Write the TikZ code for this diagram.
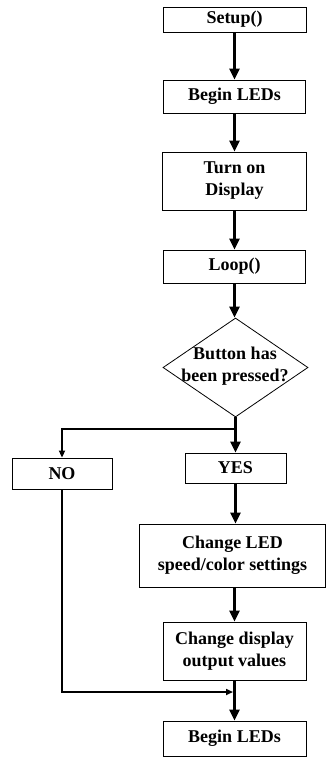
\documentclass[tikz,border=0pt]{standalone}
\usepackage{fontspec}
\setmainfont{Liberation Serif}
\usetikzlibrary{shapes.geometric,arrows.meta}

\tikzset{
  stepbox/.style={draw, line width=0.8pt, font=\bfseries\fontsize{18}{22}\selectfont, align=center, inner sep=2pt},
  askbox/.style={draw, diamond, line width=0.8pt, inner sep=0pt},
  flow/.style={line width=2.6pt, -{Triangle[length=11pt,width=10pt]}},
  side/.style={line width=1.6pt, -{Triangle[length=7pt,width=6pt]}},
}

\begin{document}
\begin{tikzpicture}[x=1pt,y=-1pt]
  %\draw[lightgray] (0,0) grid[step=50] (326,757);
  \useasboundingbox (0,0) rectangle (326,757);
  \draw (234.5,19.5) node [stepbox, minimum width=143pt, minimum height=25pt] (setup) {Setup()};
  \draw (234.5,96.5) node [stepbox, minimum width=142pt, minimum height=33pt] (beginleds) {Begin LEDs};
  \draw (234.5,181) node [stepbox, minimum width=144pt, minimum height=58pt] (display) {Turn on\\Display};
  \draw (234.5,266.5) node [stepbox, minimum width=142pt, minimum height=33pt] (loop) {Loop()};
  \draw (235.5,367.5) node [askbox, minimum width=145pt, minimum height=99pt] (pressed) {};
  \node [font=\bfseries\fontsize{18}{22}\selectfont, align=center] (pressedtext) at (235,366) {Button has\\been pressed?};
  \coordinate (split) at (235.5,429);
  \draw (62,473.5) node [stepbox, minimum width=100pt, minimum height=31pt] (no) {NO};
  \draw (235.5,468) node [stepbox, minimum width=101pt, minimum height=30pt] (yes) {YES};
  \draw (232.5,555.5) node [stepbox, minimum width=186pt, minimum height=63pt] (ledset) {Change LED\\speed/color settings};
  \draw (234.5,651) node [stepbox, minimum width=143pt, minimum height=58pt] (dispset) {Change display\\output values};
  \draw (234.5,738.5) node [stepbox, minimum width=143pt, minimum height=35pt] (again) {Begin LEDs};
  \coordinate (merge) at (233,692);

  \draw[flow] (setup.south) -- (setup.south |- beginleds.north);
  \draw[flow] (beginleds.south) -- (beginleds.south |- display.north);
  \draw[flow] (display.south) -- (display.south |- loop.north);
  \draw[flow] (loop.south) -- (loop.south |- pressed.north);
  \draw[flow] (pressed.south) -- (pressed.south |- yes.north);
  \draw[side] (split) -| (no.north);
  \draw[flow] (yes.south) -- (yes.south |- ledset.north);
  \draw[flow] (dispset.north |- ledset.south) -- (dispset.north);
  \draw[flow] (dispset.south) -- (dispset.south |- again.north);
  \draw[side] (no.south) |- (merge);
\end{tikzpicture}
\end{document}
